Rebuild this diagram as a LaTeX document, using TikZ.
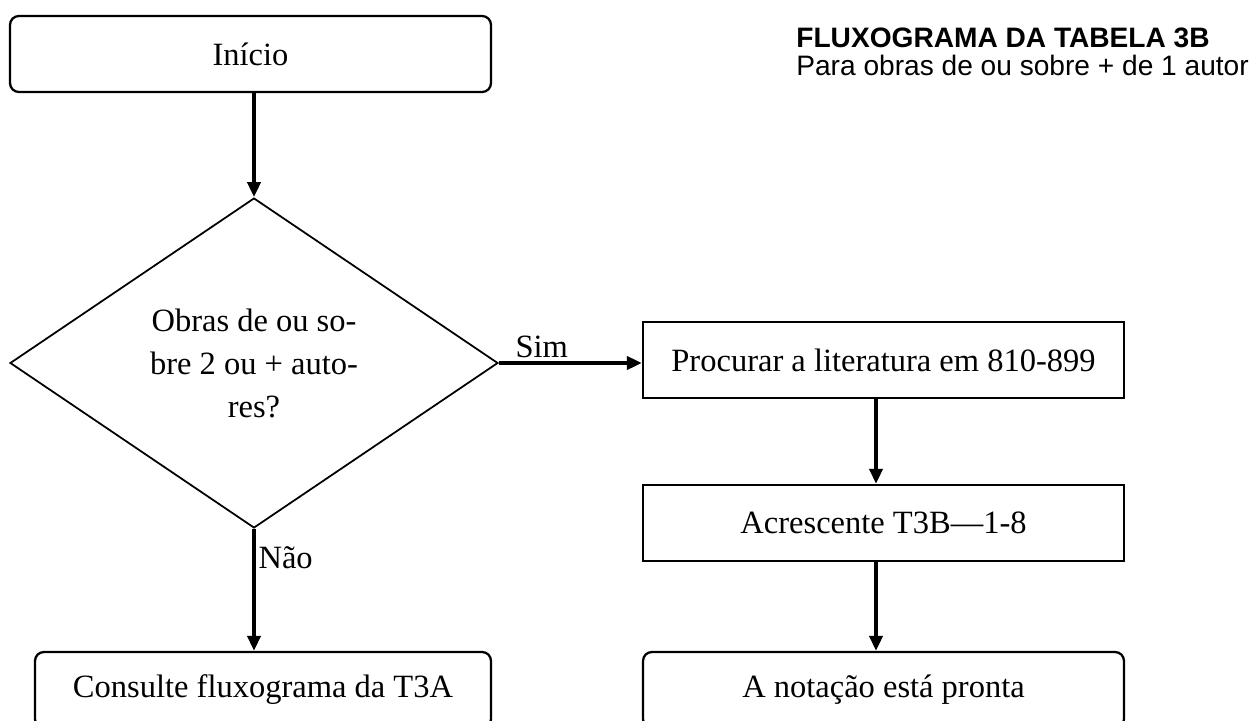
\documentclass[tikz,border=0pt]{standalone}
\usepackage{fontspec}
\setmainfont{Liberation Serif}
\newfontfamily\titlefont{Liberation Sans}
\usetikzlibrary{positioning,arrows.meta,shapes.geometric}

\begin{document}
\begin{tikzpicture}[
    x=0.02cm, y=-0.02cm,
    font=\fontsize{18.5}{24.5}\selectfont,
    >={Triangle[length=0.3cm,width=0.26cm]},
    flow/.style={->, line width=2.2pt}
]

\tikzstyle{terminal}=[
    rectangle,
    rounded corners=5pt,
    draw,
    line width=1.3pt,
    inner sep=0pt,
    align=center
]
\tikzstyle{process}=[
    rectangle,
    draw,
    line width=1.3pt,
    inner sep=0pt,
    align=center
]
\tikzstyle{decision}=[
    diamond,
    draw,
    line width=1pt,
    inner sep=0pt,
    minimum width=9.76cm,
    minimum height=6.6cm,
    align=center
]

\clip (0,0) rectangle (1256,720);
\useasboundingbox (0,0) rectangle (1256,720);

\node[terminal, minimum width=9.62cm, minimum height=1.52cm] (inicio) at (250.5,54) {Início};
\node[decision] (obras) at (254,363) {Obras de ou so-\\bre 2 ou + auto-\\res?};
\node[process, minimum width=9.62cm, minimum height=1.52cm] (procurar) at (883.5,360) {Procurar a literatura em 810-899};
\node[process, minimum width=9.62cm, minimum height=1.52cm] (acrescente) at (883.5,523) {Acrescente T3B---1-8};
\node[terminal, minimum width=9.12cm, minimum height=1.52cm] (consulte) at (263,690) {Consulte fluxograma da T3A};
\node[terminal, minimum width=9.62cm, minimum height=1.52cm] (pronta) at (883.5,690) {A notação está pronta};

\coordinate (col) at (876,0);

\node[anchor=west, align=left, inner sep=0pt, font=\titlefont\fontsize{16}{16}\selectfont] (titulo) at (796,52)
    {\textbf{FLUXOGRAMA DA TABELA 3B}\\Para obras de ou sobre + de 1 autor};

\draw[flow] (inicio.south -| obras.north) -- (obras.north);
\draw[flow] (obras.east) -- node[pos=0.3, above, inner sep=2pt] {Sim} (procurar.west |- obras.east);
\draw[flow] (obras.south) -- node[pos=0.24, right, inner sep=1.5pt] {Não} (consulte.north -| obras.south);
\draw[flow] (procurar.south -| col) -- (acrescente.north -| col);
\draw[flow] (acrescente.south -| col) -- (pronta.north -| col);

\end{tikzpicture}
\end{document}
